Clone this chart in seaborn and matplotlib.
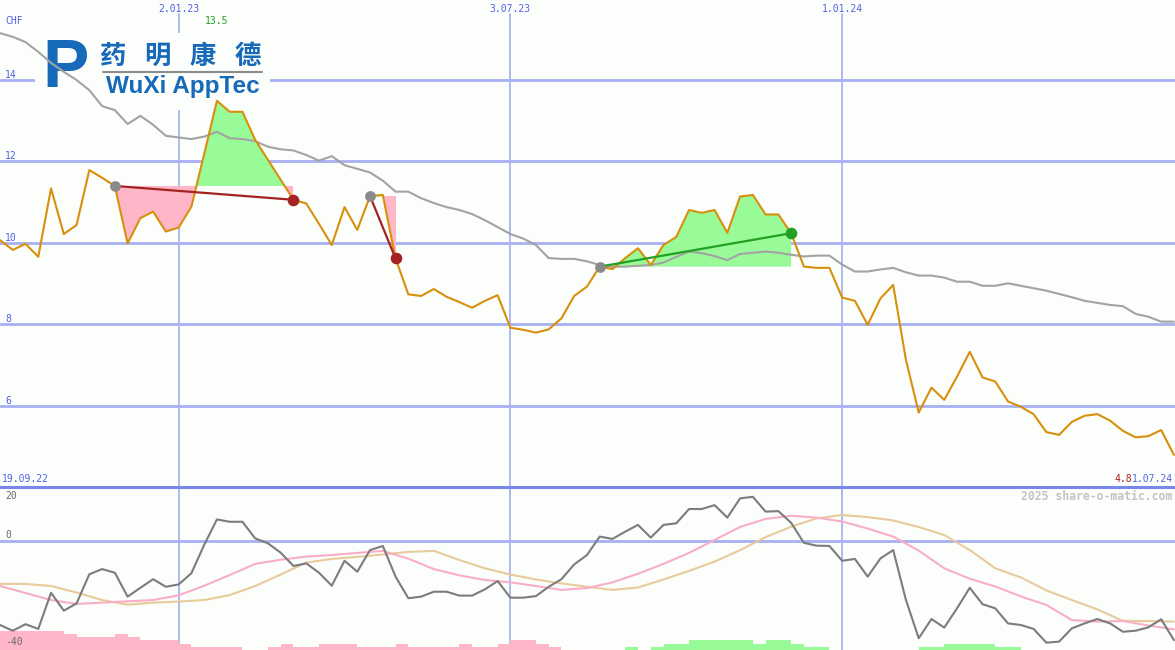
import numpy as np
import pandas as pd
import seaborn as sns
import matplotlib.pyplot as plt
import matplotlib.dates as mdates
from matplotlib.patches import Rectangle
from matplotlib.lines import Line2D

# weekly closes in CHF, 26.09.22 .. 1.07.24
dates = pd.date_range('2022-09-26', periods=93, freq='7D')
price = [10.07, 9.83, 9.98, 9.66, 11.34, 10.22, 10.44, 11.79, 11.60, 11.40,
         9.99, 10.61, 10.77, 10.28, 10.38, 10.89, 12.18, 13.49, 13.22, 13.22,
         12.53, 12.04, 11.55, 11.06, 10.97, 10.47, 9.95, 10.88, 10.32, 11.15,
         11.18, 9.62, 8.74, 8.70, 8.87, 8.68, 8.55, 8.41, 8.58, 8.72,
         7.92, 7.87, 7.80, 7.88, 8.15, 8.70, 8.93, 9.42, 9.36, 9.63,
         9.87, 9.46, 9.95, 10.15, 10.81, 10.74, 10.81, 10.25, 11.14, 11.18,
         10.70, 10.70, 10.24, 9.42, 9.39, 9.39, 8.66, 8.58, 7.99, 8.64,
         8.97, 7.13, 5.84, 6.45, 6.15, 6.72, 7.33, 6.70, 6.60, 6.11,
         5.98, 5.80, 5.36, 5.29, 5.61, 5.76, 5.80, 5.64, 5.39, 5.23,
         5.26, 5.41, 4.80]
# grey moving average
avg = [15.15, 15.06, 14.93, 14.69, 14.42, 14.20, 14.00, 13.75, 13.36, 13.26,
       12.92, 13.12, 12.90, 12.63, 12.59, 12.55, 12.61, 12.73, 12.57, 12.55,
       12.50, 12.36, 12.30, 12.27, 12.16, 12.02, 12.13, 11.91, 11.82, 11.73,
       11.53, 11.26, 11.26, 11.10, 10.98, 10.88, 10.81, 10.71, 10.56, 10.39,
       10.22, 10.11, 9.95, 9.63, 9.61, 9.61, 9.55, 9.46, 9.42, 9.42,
       9.44, 9.46, 9.52, 9.66, 9.79, 9.75, 9.68, 9.58, 9.73, 9.76,
       9.79, 9.76, 9.71, 9.67, 9.69, 9.69, 9.47, 9.30, 9.30, 9.35,
       9.39, 9.28, 9.20, 9.20, 9.15, 9.05, 9.05, 8.95, 8.95, 9.01,
       8.95, 8.89, 8.83, 8.75, 8.67, 8.58, 8.53, 8.48, 8.45, 8.26,
       8.19, 8.07, 8.07]
# trend segments (start week, end week)
trends = [(9, 23, 'down'), (29, 31, 'down'), (47, 62, 'up')]

# lower panel: momentum + two signal lines (read every 2nd week) + histogram
mom = [-32.3, -34.5, -32.0, -33.8, -19.9, -26.8, -24.0, -12.8, -10.8, -12.2,
       -21.4, -18.0, -14.7, -17.6, -16.7, -12.4, -1.5, 8.3, 7.4, 7.4,
       1.0, -0.9, -4.5, -9.6, -8.6, -12.2, -17.2, -7.6, -11.8, -3.5,
       -1.9, -13.7, -22.0, -21.4, -19.5, -19.5, -21.0, -21.0, -18.6, -15.4,
       -21.8, -21.8, -21.2, -17.6, -14.7, -9.0, -5.4, 1.7, 0.8, 3.6,
       6.2, 1.3, 6.2, 6.8, 12.3, 12.3, 13.8, 9.0, 16.4, 17.0,
       11.3, 11.5, 7.0, -0.7, -1.8, -1.9, -7.6, -6.9, -13.7, -6.7,
       -3.5, -22.7, -37.4, -30.0, -33.3, -25.9, -18.0, -24.3, -25.9, -31.7,
       -32.3, -33.8, -39.1, -38.7, -33.6, -31.7, -30.0, -31.7, -34.9, -34.5,
       -33.2, -30.1, -38.1]
sig_weeks = list(range(0, 93, 2))
sig_fast = [-17.3, -20.0, -22.7, -24.2, -23.7, -23.2, -22.7, -20.9, -17.2, -13.1,
            -8.8, -7.2, -6.0, -5.4, -4.6, -3.8, -6.8, -10.8, -13.2, -15.0,
            -15.9, -17.3, -18.8, -18.1, -15.9, -12.6, -8.8, -4.6, 0.4, 5.4,
            8.5, 9.7, 9.0, 7.5, 4.8, 1.7, -3.7, -10.5, -14.5, -17.5,
            -21.3, -24.6, -30.4, -31.0, -30.8, -32.5, -34.0]
sig_slow = [-16.5, -16.5, -17.3, -19.8, -22.7, -24.5, -23.7, -23.3, -22.7, -20.8,
            -17.3, -12.9, -8.3, -6.9, -6.1, -5.2, -4.2, -3.8, -7.3, -10.5,
            -12.9, -14.8, -16.3, -17.6, -18.8, -17.9, -14.8, -11.5, -7.9, -3.5,
            1.5, 5.5, 8.7, 10.0, 9.2, 7.9, 5.4, 2.3, -3.5, -10.5,
            -14.0, -19.0, -22.7, -26.3, -30.7, -30.8, -31.0]
hist = ([-6] * 5 + [-5] + [-4] * 3 + [-5] + [-4] + [-3] * 3 + [-2] + [-1] * 4
        + [0] * 2 + [-1] + [-2] + [-1] * 2 + [-2] * 3 + [-1] * 3 + [-2] + [-1] * 4
        + [-2] + [-1] * 2 + [-2] + [-3] * 2 + [-2] + [-1] + [0] * 5
        + [1] + [0] + [1] + [2] * 2 + [3] * 5 + [2] + [3] * 2 + [2] + [1] * 2
        + [0] * 7 + [1] * 2 + [2] * 4 + [1] * 2 + [0] * 13)

tick_dates = pd.to_datetime(['2023-01-02', '2023-07-03', '2024-01-01'])
tick_labels = ['2.01.23', '3.07.23', '1.01.24']
start_label, end_label = '19.09.22', '1.07.24'
price_ticks = [6, 8, 10, 12, 14]

BG = '#fbfefa'
GRID = '#a6b0f2'
VGRID = '#a9b4f2'
LBL = '#5262e6'
ORANGE = '#d8900c'
PINK = '#ffb6c8'
GREEN = '#98fb98'
DARKRED = '#a52222'
DKGREEN = '#22a022'
LOGO = '#1769ba'

sns.set_style('white')
plt.rcParams['font.family'] = ['DejaVu Sans Mono', 'Noto Sans CJK SC']

W, H, TOP_H = 1175, 650, 487
fig = plt.figure(figsize=(W / 100, H / 100), dpi=100, facecolor=BG)
ax = fig.add_axes([0, (H - TOP_H) / H, 1, TOP_H / H], facecolor=BG)
axb = fig.add_axes([0, 0, 1, (H - TOP_H) / H], facecolor=BG)

x = mdates.date2num(dates)
p = np.array(price)
x0, x1 = x[0], x[0] + W / 12.76 * 7


def tp(px, py):
    return (px / W, 1 - py / TOP_H)


def bp(px, py):
    return (px / W, 1 - (py - TOP_H) / (H - TOP_H))


# ---------- top panel ----------
for a in (ax, axb):
    a.set_xlim(x0, x1)
    a.set_xticks([])
    a.set_yticks([])
    for s in a.spines.values():
        s.set_visible(False)
ax.set_ylim(4.012, 15.963)

for v in price_ticks:
    ax.axhline(v, color=GRID, lw=2.0, zorder=1)
for t in mdates.date2num(tick_dates):
    ax.axvline(t, ymin=0, ymax=1 - 14 / TOP_H, color=VGRID, lw=1.3, zorder=1)
    axb.axvline(t, color=VGRID, lw=1.3, zorder=1)

# logo box hides the grid behind it
ax.add_patch(Rectangle(tp(35, 110), 235 / W, 77 / TOP_H, transform=ax.transAxes,
                       facecolor=BG, edgecolor='none', zorder=2))
ax.text(*tp(66, 69), 'P', transform=ax.transAxes, ha='center', va='center',
        fontsize=50, fontweight='bold', family='Liberation Sans', color=LOGO, zorder=2.5)
for ch, cx in zip('药明康德', [113, 157, 203, 248]):
    ax.text(*tp(cx, 56), ch, transform=ax.transAxes, ha='center', va='center',
            fontsize=19, fontweight='bold', family='Noto Sans CJK SC', color=LOGO, zorder=2.5)
ax.add_line(Line2D([103 / W, 262 / W], [1 - 72 / TOP_H] * 2, transform=ax.transAxes,
                   color='#8c8c8c', lw=1.5, zorder=2.5))
ax.text(*tp(183, 87), 'WuXi AppTec', transform=ax.transAxes, ha='center', va='center',
        fontsize=17.5, fontweight='bold', family='Liberation Sans', color=LOGO, zorder=2.5)

# trend fills
for i0, i1, kind in trends:
    xs, ps = x[i0:i1 + 1], p[i0:i1 + 1]
    lvl = ps[0]
    ax.fill_between(xs, lvl, ps, where=ps <= lvl, interpolate=True,
                    color=PINK, lw=0, zorder=3)
    ax.fill_between(xs, lvl, ps, where=ps >= lvl, interpolate=True,
                    color=GREEN, lw=0, zorder=3)

sns.lineplot(x=x, y=avg, ax=ax, color='#a3a3a3', lw=1.5, sort=False,
             estimator=None, zorder=4)
sns.lineplot(x=x, y=price, ax=ax, color=ORANGE, lw=1.5, sort=False,
             estimator=None, zorder=5)

for i0, i1, kind in trends:
    c = DKGREEN if kind == 'up' else DARKRED
    sns.lineplot(x=[x[i0], x[i1]], y=[p[i0], p[i1]], ax=ax, color=c, lw=1.6,
                 sort=False, estimator=None, zorder=6)
    ax.scatter([x[i0]], [p[i0]], s=60, color='#8a8a8a', zorder=7, lw=0)
    ax.scatter([x[i1]], [p[i1]], s=70, color=c, zorder=7, lw=0)

# labels
ax.text(*tp(5, 21), 'CHF', transform=ax.transAxes, fontsize=7, color=LBL, va='center')
for v in price_ticks:
    ax.text(5 / W, v, str(v), transform=ax.get_yaxis_transform(), fontsize=7,
            color=LBL, va='bottom')
for t, lab in zip(mdates.date2num(tick_dates), tick_labels):
    ax.text(t, 1 - 9 / TOP_H, lab, transform=ax.get_xaxis_transform(), fontsize=7,
            color=LBL, ha='center', va='center')
imax = int(np.argmax(p))
ax.text(x[imax], 1 - 21 / TOP_H, f'{p[imax]:.1f}', transform=ax.get_xaxis_transform(),
        fontsize=7, color=DKGREEN, ha='center', va='center')
ax.text(*tp(2, 479), start_label, transform=ax.transAxes, fontsize=7, color=LBL, va='center')
ax.text(*tp(1173, 479), end_label, transform=ax.transAxes, fontsize=7, color=LBL,
        ha='right', va='center', zorder=8)
ax.text(*tp(1132, 479), f'{p[-1]:.1f}', transform=ax.transAxes, fontsize=7,
        color=DARKRED, ha='right', va='center', zorder=9)

# ---------- lower panel ----------
ylo, yhi = -41.92, 20.77
axb.set_ylim(ylo, yhi)
axb.axhline(0, color=GRID, lw=2.0, zorder=1)

h = np.array(hist)
axb.bar(x, np.abs(h) * 1.22, width=7, align='edge', bottom=ylo,
        color=[PINK if v < 0 else GREEN for v in h], lw=0, zorder=2)

sx = x[sig_weeks]
sns.lineplot(x=sx, y=sig_slow, ax=axb, color='#e8cb9c', lw=1.5, sort=False,
             estimator=None, zorder=3)
sns.lineplot(x=sx, y=sig_fast, ax=axb, color='#f9aec8', lw=1.5, sort=False,
             estimator=None, zorder=4)
sns.lineplot(x=x, y=mom, ax=axb, color='#7c7c7c', lw=1.5, sort=False,
             estimator=None, zorder=5)

for lab, py in [('20', 496), ('0', 535), ('-40', 642)]:
    axb.text(*bp(5, py), lab, transform=axb.transAxes, fontsize=7, color='#6a6a6a',
             va='center', zorder=6)
axb.text(*bp(1172, 496), '2025 share-o-matic.com', transform=axb.transAxes,
         fontsize=8.3, fontweight='bold', color='#c4c4c4', ha='right', va='center', zorder=6)

fig.add_artist(Line2D([0, 1], [(H - TOP_H) / H] * 2, color='#7888e8', lw=2.2,
                      transform=fig.transFigure))

fig.savefig('out.png', dpi=100, facecolor=BG)
